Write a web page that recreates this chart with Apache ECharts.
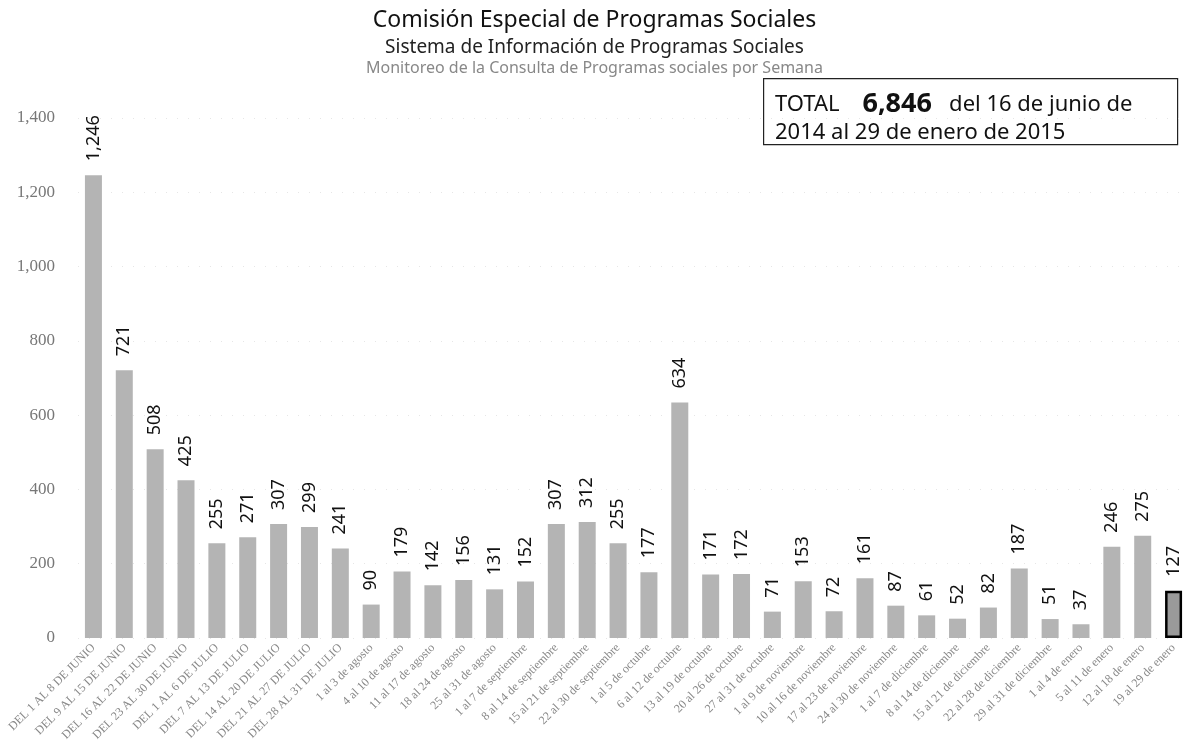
<!DOCTYPE html>
<html><head><meta charset="utf-8">
<script src="https://cdn.jsdelivr.net/npm/echarts@6/dist/echarts.min.js"></script>
<style>html,body{margin:0;padding:0;background:#fff}#c{width:1189px;height:745px}</style>
</head><body><div id="c"></div>
<script>
const categories = [
 "DEL 1 AL 8 DE JUNIO","DEL 9 AL 15 DE JUNIO","DEL 16 AL 22 DE JUNIO","DEL 23 AL 30 DE JUNIO",
 "DEL 1 AL 6 DE JULIO","DEL 7 AL 13 DE JULIO","DEL 14 AL 20 DE JULIO","DEL 21 AL 27 DE JULIO","DEL 28 AL 31 DE JULIO",
 "1 al 3 de agosto","4 al 10 de agosto","11 al 17 de agosto","18 al 24 de agosto","25 al 31 de agosto",
 "1 al 7 de septiembre","8 al 14 de septiembre","15 al 21 de septiembre","22 al 30 de septiembre",
 "1 al 5 de octubre","6 al 12 de octubre","13 al 19 de octubre","20 al 26 de octubre","27 al 31 de octubre",
 "1 al 9 de noviembre","10 al 16 de noviembre","17 al 23 de noviembre","24 al 30 de noviembre",
 "1 al 7 de diciembre","8 al 14 de diciembre","15 al 21 de diciembre","22 al 28 de diciembre","29 al 31 de diciembre",
 "1 al 4 de enero","5 al 11 de enero","12 al 18 de enero","19 al 29 de enero"
];
const consultas = [1246,721,508,425,255,271,307,299,241,90,179,142,156,131,152,307,312,255,177,634,171,172,71,153,72,161,87,61,52,82,187,51,37,246,275,127];
const yTicks = {min:0, max:1400, interval:200};
const titleText = "Comisión Especial de Programas Sociales";
const subtitleText = "Sistema de Información de Programas Sociales";
const subtitle2Text = "Monitoreo de la Consulta de Programas sociales por Semana";
const totalValue = "6,846";

const chart = echarts.init(document.getElementById('c'));
const data = consultas.map((v,i)=> i===consultas.length-1
  ? {value:v, itemStyle:{color:'#9a9a9a', borderColor:'#000', borderWidth:2.5}}
  : v);
chart.setOption({
  animation:false,
  backgroundColor:'#fff',
  title:[
    {text:titleText,left:'center',top:4,textStyle:{fontFamily:'Noto Sans',fontSize:23,fontWeight:'normal',color:'#111'}},
    {text:subtitleText,left:'center',top:33,textStyle:{fontFamily:'Noto Sans',fontSize:19,fontWeight:'normal',color:'#222'}},
    {text:subtitle2Text,left:'center',top:55,textStyle:{fontFamily:'Noto Sans',fontSize:16,fontWeight:'normal',color:'#888'}}
  ],
  grid:{left:78,right:0,top:118,bottom:107,containLabel:false},
  xAxis:{type:'category',data:categories,
    axisLine:{show:false},axisTick:{show:false},
    axisLabel:{interval:0,rotate:45,fontSize:12,color:'#888',fontFamily:'Liberation Serif',margin:8}},
  yAxis:{type:'value',min:yTicks.min,max:yTicks.max,interval:yTicks.interval,
    axisLine:{show:false},axisTick:{show:false},
    splitLine:{show:true,lineStyle:{color:'#e6e6e6',type:[1,10],width:1}},
    axisLabel:{color:'#777',fontSize:17,fontFamily:'Liberation Serif',margin:23,
      formatter:v=>v.toLocaleString('en-US')}},
  series:[{type:'bar',data:data,barWidth:17,
    itemStyle:{color:'#b4b4b4'},
    label:{show:true,position:'top',rotate:90,align:'left',verticalAlign:'middle',distance:14,
      fontFamily:'Noto Sans',fontSize:18,color:'#111',
      formatter:p=>p.value.toLocaleString('en-US')}}],
  graphic:[
    {type:'rect',left:763,top:78,shape:{width:414,height:66},style:{fill:'#fff',stroke:'#222',lineWidth:1.2}},
    {type:'text',left:775,top:91,style:{text:'{a|TOTAL    }{b|'+totalValue+'}{a|   del 16 de junio de}',
      rich:{a:{fontFamily:'Noto Sans',fontSize:22,fill:'#111'},b:{fontFamily:'Noto Sans',fontSize:27,fontWeight:'bold',fill:'#111'}}}},
    {type:'text',left:775,top:122,style:{text:'2014 al 29 de enero de 2015',fontFamily:'Noto Sans',fontSize:22,fill:'#111'}}
  ]
});
</script></body></html>
